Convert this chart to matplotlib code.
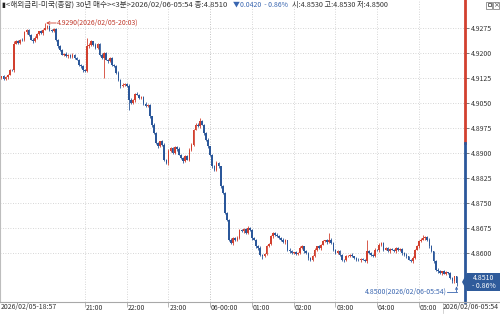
import matplotlib
matplotlib.use('Agg')
import matplotlib.pyplot as plt
from matplotlib.patches import Polygon, Rectangle
from matplotlib.lines import Line2D
from matplotlib.transforms import blended_transform_factory

plt.rcParams['font.family'] = ['Noto Sans CJK KR', 'DejaVu Sans']

# ---- data (prices in 1e-4 units) ----
closes_raw = [
    49125, 49130, 49122, 49128, 49135, 49150, 49148, 49228, 49235, 49230,
    49240, 49238, 49262, 49270, 49255, 49240, 49235, 49245, 49258, 49265,
    49260, 49270, 49275, 49280, 49270, 49265, 49272, 49240, 49220, 49210,
    49195, 49198, 49190, 49195, 49188, 49195, 49185, 49180, 49165, 49160,
    49150, 49145, 49220, 49225, 49235, 49225, 49215, 49228, 49195, 49185,
    49200, 49180, 49175, 49185, 49165, 49160, 49140, 49120, 49100, 49105,
    49108, 49102, 49060, 49050, 49058, 49078, 49075, 49065, 49068, 49048,
    49042, 49045, 49010, 48985, 48960, 48930, 48920, 48935, 48925, 48880,
    48870, 48905, 48915, 48900, 48918, 48912, 48895, 48885, 48875, 48890,
    48880, 48910, 48925, 48970, 48985, 48980, 48995, 48985, 48960, 48940,
    48920, 48895, 48860, 48850, 48870, 48860, 48800, 48780, 48720, 48700,
    48640, 48630, 48645, 48638, 48645, 48670, 48665, 48672, 48660, 48675,
    48668, 48645, 48640, 48620, 48615, 48595, 48590, 48598, 48620, 48628,
    48650, 48660, 48655, 48650, 48645, 48640, 48632, 48638, 48610, 48605,
    48600, 48602, 48598, 48600, 48615, 48620, 48605, 48600, 48585, 48580,
    48590, 48610, 48620, 48615, 48625, 48635, 48638, 48632, 48640, 48630,
    48610, 48600, 48605, 48595, 48580, 48578, 48590, 48592, 48595, 48590,
    48585, 48580, 48578, 48582, 48580, 48575, 48605, 48600, 48595, 48592,
    48610, 48608, 48625, 48630, 48610, 48615, 48605, 48612, 48610, 48605,
    48615, 48608, 48612, 48600, 48595, 48590, 48580, 48575, 48585, 48610,
    48620, 48635, 48640, 48645, 48648, 48640, 48620, 48605, 48575, 48550,
    48545, 48540, 48545, 48538, 48542, 48540, 48525, 48515, 48530, 48510,
]
up_wick = [
    3, 2, 4, 3, 2, 3, 2, 8, 3, 4,
    2, 5, 4, 3, 2, 3, 4, 5, 3, 2,
    4, 3, 15, 3, 4, 2, 3, 2, 3, 4,
    2, 3, 4, 2, 3, 4, 2, 3, 3, 2,
    4, 2, 25, 5, 3, 2, 4, 3, 2, 5,
    3, 4, 2, 3, 4, 2, 3, 5, 2, 4,
    3, 2, 4, 5, 3, 2, 4, 3, 2, 3,
    4, 2, 3, 2, 5, 3, 4, 2, 3, 5,
    2, 6, 3, 4, 2, 3, 5, 2, 3, 4,
    3, 5, 4, 3, 6, 4, 10, 3, 2, 3,
    4, 2, 3, 5, 6, 3, 2, 4, 3, 2,
    3, 4, 2, 3, 5, 3, 2, 4, 3, 5,
    2, 3, 4, 2, 3, 5, 2, 3, 4, 3,
    4, 3, 2, 5, 3, 2, 4, 3, 2, 4,
    3, 2, 4, 3, 5, 3, 2, 4, 3, 2,
    3, 4, 2, 5, 3, 4, 2, 3, 20, 4,
    3, 2, 4, 3, 2, 3, 4, 2, 3, 4,
    2, 3, 4, 2, 3, 2, 35, 4, 3, 2,
    4, 3, 5, 3, 2, 4, 3, 2, 4, 3,
    2, 3, 4, 2, 3, 4, 2, 3, 5, 3,
    4, 3, 5, 8, 3, 2, 4, 3, 2, 3,
    4, 3, 2, 5, 3, 2, 4, 3, 2, 0,
]
down_wick = [
    3, 4, 2, 3, 5, 2, 3, 4, 2, 3,
    4, 2, 3, 5, 3, 2, 4, 3, 2, 4,
    3, 5, 2, 3, 4, 2, 3, 5, 4, 3,
    2, 4, 3, 5, 2, 3, 4, 2, 3, 5,
    6, 3, 2, 4, 3, 5, 2, 3, 4, 3,
    60, 2, 4, 3, 5, 2, 4, 3, 5, 2,
    3, 4, 30, 2, 3, 5, 2, 4, 3, 5,
    4, 3, 5, 6, 3, 2, 4, 3, 5, 4,
    3, 5, 2, 4, 3, 5, 2, 4, 6, 3,
    2, 4, 3, 5, 2, 3, 4, 2, 5, 4,
    6, 4, 5, 3, 4, 6, 5, 4, 3, 5,
    4, 3, 5, 2, 3, 4, 3, 5, 2, 4,
    3, 5, 2, 4, 6, 5, 7, 3, 4, 2,
    3, 4, 5, 2, 3, 4, 2, 5, 3, 4,
    2, 3, 4, 5, 2, 3, 4, 3, 5, 4,
    3, 2, 4, 3, 5, 2, 3, 4, 3, 2,
    4, 3, 2, 5, 3, 4, 2, 3, 4, 3,
    2, 4, 3, 5, 2, 3, 4, 2, 3, 5,
    3, 2, 4, 3, 5, 2, 3, 4, 2, 3,
    4, 3, 2, 5, 3, 4, 2, 3, 4, 3,
    2, 4, 3, 2, 5, 3, 4, 2, 5, 3,
    4, 3, 5, 2, 3, 4, 3, 5, 4, 10,
]
first_open = 49120
prev_close = 4.8930

hour_idx = [41, 61, 81, 101, 121, 141, 161, 181, 201]
hour_labels = ['21:00', '22:00', '23:00', '06-00:00', '01:00', '02:00', '03:00', '04:00', '05:00']
y_ticks = [4.8600, 4.8675, 4.8750, 4.8825, 4.8900, 4.8975, 4.9050, 4.9125, 4.9200, 4.9275]

title_main = '<해외금리-미국(종합) 30년 매수><3분>2026/02/06-05:54 종:4.8510'
title_chg = '▼0.0420  - 0.86%'
title_ohl = '시:4.8530 고:4.8530 저:4.8500'
first_label = '2026/02/05-18:57'
last_label = '2026/02/06-05:54'
hi_note = '4.9290(2026/02/05-20:03)'
lo_note = '4.8500(2026/02/06-05:54)'

assert len(closes_raw) == 220 and len(up_wick) == 220 and len(down_wick) == 220

S = 1e-4
closes = [c * S for c in closes_raw]
opens = [first_open * S] + closes[:-1]
highs = [max(o, c) + u * S for o, c, u in zip(opens, closes, up_wick)]
lows = [min(o, c) - d * S for o, c, d in zip(opens, closes, down_wick)]

RED = '#d2402f'
BLUE = '#2b579a'
GRID = '#c9c9c9'
TXT = '#333333'

W, H = 500, 314
fig = plt.figure(figsize=(5, 3.14), dpi=100)
fig.patch.set_facecolor('white')

def fx(x):
    return x / W

def fy(y):
    return 1 - y / H

ax = fig.add_axes([0, 1 - 302 / H, 465 / W, 302 / H])
ax.set_facecolor('white')
ax.set_xlim(0.287, 223.05)
ax.set_ylim(4.89 - 149 * 0.0003, 4.89 + 153 * 0.0003)

# grid
for v in y_ticks:
    ax.axhline(v, color=GRID, lw=0.6, ls=(0, (1, 2)), zorder=0)
for k, i in enumerate(hour_idx):
    ax.axvline(i, color='#b0b0b0' if hour_labels[k].startswith('06') else GRID,
               lw=0.6, ls=(0, (1, 2)), zorder=0)

# candles
for i, (o, c, h, l) in enumerate(zip(opens, closes, highs, lows)):
    col = RED if c > o else BLUE
    ax.vlines(i, l, h, color=col, lw=0.6, zorder=2)
    hgt = abs(c - o)
    if hgt < 0.00004:
        hgt = 0.00004
    ax.bar(i, hgt, bottom=min(o, c), width=0.8, color=col, lw=0, zorder=3)

# spines
for s in ['top', 'right', 'bottom']:
    ax.spines[s].set_visible(False)
ax.spines['left'].set_color('#bdbdbd')
ax.spines['left'].set_linewidth(0.8)

ytr = ax.get_yaxis_transform()
lo_lim, hi_lim = ax.get_ylim()
ax.plot([1, 1], [prev_close, hi_lim], transform=ytr, color=RED, lw=2, clip_on=False, zorder=4)
ax.plot([1, 1], [lo_lim, prev_close], transform=ytr, color=BLUE, lw=2, clip_on=False, zorder=4)

# y ticks
ax.yaxis.tick_right()
ax.set_yticks(y_ticks)
ax.set_yticklabels([f'{v:.4f}' for v in y_ticks])
ax.tick_params(axis='y', length=3, width=0.6, color='#666666', labelsize=5,
               pad=1.5, labelcolor=TXT)

# x ticks: separators + labels placed in the label row
ax.set_xticks(hour_idx)
ax.set_xticklabels([''] * len(hour_idx))
ax.tick_params(axis='x', length=3.5, width=0.5, color='#9a9a9a')
xtr = blended_transform_factory(ax.transData, fig.transFigure)
for i, lab in zip(hour_idx, hour_labels):
    ax.text(i + 0.4, fy(307.5), lab, transform=xtr, fontsize=5, color=TXT,
            ha='left', va='center', clip_on=False)

# bottom axis line
fig.add_artist(Line2D([0, 1], [fy(302), fy(302)], transform=fig.transFigure,
                      color='#a8a8a8', lw=0.8))
fig.text(fx(1), fy(307.5), first_label, fontsize=5, color=TXT, ha='left', va='center')
fig.text(fx(499), fy(307.5), last_label, fontsize=5, color=TXT, ha='right', va='center')
fig.add_artist(Line2D([fx(443), fx(443)], [fy(302), fy(313)], transform=fig.transFigure,
                      color='#c0c0c0', lw=0.5))

# title
fig.text(fx(1), fy(5), '▮', fontsize=5, color='#222222', ha='left', va='center')
fig.text(fx(6), fy(5), title_main, fontsize=5.5, color=TXT, ha='left', va='center')
fig.text(fx(233), fy(5), title_chg, fontsize=5, color='#3a66b0', ha='left', va='center')
fig.text(fx(292), fy(5), title_ohl, fontsize=5.2, color=TXT, ha='left', va='center')

# top-right icons
fig.add_artist(Rectangle((fx(486), fy(9)), 6 / W, 7 / H, transform=fig.transFigure,
                         fill=False, ec='#888888', lw=0.6))
fig.add_artist(Rectangle((fx(487.5), fy(6)), 3 / W, 3 / H, transform=fig.transFigure,
                         fill=False, ec='#555555', lw=0.6))
fig.add_artist(Rectangle((fx(493), fy(9)), 6 / W, 7 / H, transform=fig.transFigure,
                         fill=False, ec='#888888', lw=0.6))
fig.text(fx(496), fy(5.3), '×', fontsize=5, color='#555555', ha='center', va='center',
         family=['DejaVu Sans'])

# high annotation
hi_idx = 22
ax.annotate('', xy=(hi_idx + 0.4, 4.9290), xytext=(27.2, 4.9290),
            arrowprops=dict(arrowstyle='->', color=RED, lw=0.6, shrinkA=0, shrinkB=0,
                            mutation_scale=5))
ax.text(27.4, 4.9290, hi_note, fontsize=5, color='#c0392b', ha='left', va='center')

# low annotation
y_note = 4.89 - (292 - 153) * 0.0003
ax.text(214.2, y_note, lo_note, fontsize=5, color='#3a66b0', ha='right', va='center')
ax.plot([214.4, 219], [y_note, y_note], color='#3a66b0', lw=0.6, clip_on=False)
ax.annotate('', xy=(219, 4.8500), xytext=(219, y_note),
            arrowprops=dict(arrowstyle='->', color='#3a66b0', lw=0.6, shrinkA=0, shrinkB=0,
                            mutation_scale=4))

# price box
poly = Polygon([(fx(462), fy(282)), (fx(467), fy(273)), (fx(500), fy(273)),
                (fx(500), fy(291)), (fx(467), fy(291))], closed=True,
               transform=fig.transFigure, fc='#2f5b9b', ec='none', zorder=10)
fig.add_artist(poly)
fig.text(fx(484), fy(277.8), '4.8510', fontsize=5, color='white', ha='center',
         va='center', zorder=11)
fig.text(fx(484), fy(286.5), '- 0.86%', fontsize=5, color='white', ha='center',
         va='center', zorder=11)

fig.savefig('out.png', dpi=100, facecolor='white')
